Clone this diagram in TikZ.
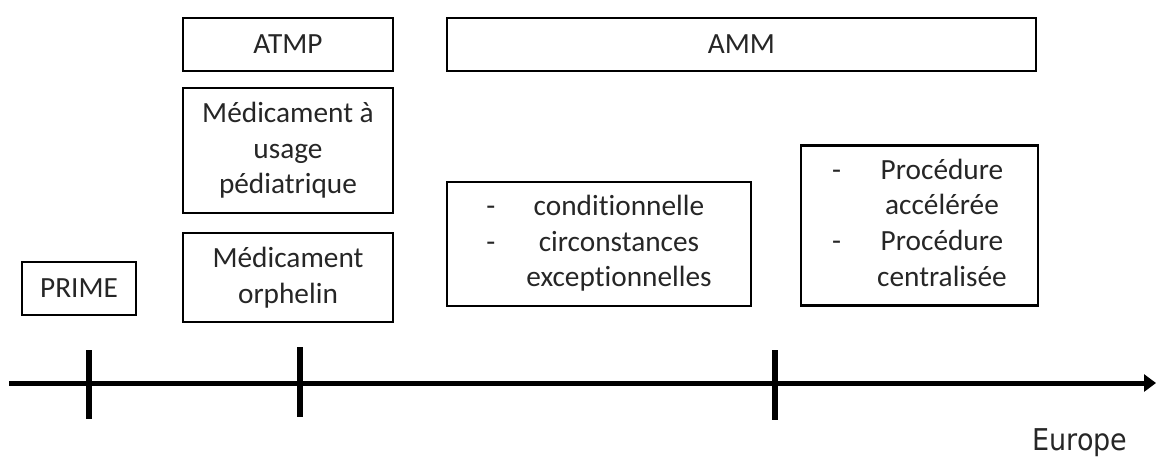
\documentclass[tikz,border=0pt]{standalone}
\usepackage{fontspec}
\setmainfont{Carlito}[Ligatures={NoCommon}]
\newfontfamily\eufont{DejaVu Sans Condensed}
\usetikzlibrary{arrows.meta}
\tikzset{
  box/.style={draw=black, line width=2.2pt, inner sep=0pt, align=center,
    font=\fontsize{29.3}{35.6}\selectfont, text=black!85},
  tick/.style={line width=6.5pt, black},
  axisline/.style={line width=5pt, black, -{Triangle[length=12pt,width=17pt]}}
}
\begin{document}
\begin{tikzpicture}[x=1pt,y=-1pt]
\useasboundingbox (0,0) rectangle (1156,457);
\node[box, minimum width=210pt, minimum height=53pt] (atmp) at (288,44.5) {ATMP};
\node[box, minimum width=589pt, minimum height=53pt] (amm) at (741.5,44.5) {AMM};
\node[box, minimum width=210pt, minimum height=125pt] (ped) at (288,150.5) {Médicament à\\usage\\pédiatrique};
\node[box, minimum width=210pt, minimum height=89pt] (orph) at (288,277.5) {Médicament\\orphelin};
\node[box, minimum width=114pt, minimum height=53pt] (prime) at (79,288.5) {PRIME};
\node[box, minimum width=304pt, minimum height=124pt] (cond) at (599,244)
  {\begin{tabular}{@{}l@{\hspace{31pt}}c@{}}-&conditionnelle\\-&circonstances\\&exceptionnelles\end{tabular}};
\node[box, minimum width=237pt, minimum height=160pt] (proc) at (919.5,225.5)
  {\begin{tabular}{@{}l@{\hspace{36pt}}c@{}}-&Procédure\\&accélérée\\-&Procédure\\&centralisée\end{tabular}};
\coordinate (ax0) at (9,383);
\coordinate (ax1) at (1156,383);
\draw[axisline] (ax0) -- (ax1);
\coordinate (t1a) at (89,350); \coordinate (t1b) at (89,419);
\coordinate (t2a) at (300,347); \coordinate (t2b) at (300,417);
\coordinate (t3a) at (775,350); \coordinate (t3b) at (775,420);
\draw[tick] (t1a) -- (t1b);
\draw[tick] (t2a) -- (t2b);
\draw[tick] (t3a) -- (t3b);
\node[font=\eufont\fontsize{30}{36}\selectfont, text=black!85, inner sep=0pt] (europe) at (1080,443) {Europe};
\end{tikzpicture}
\end{document}
